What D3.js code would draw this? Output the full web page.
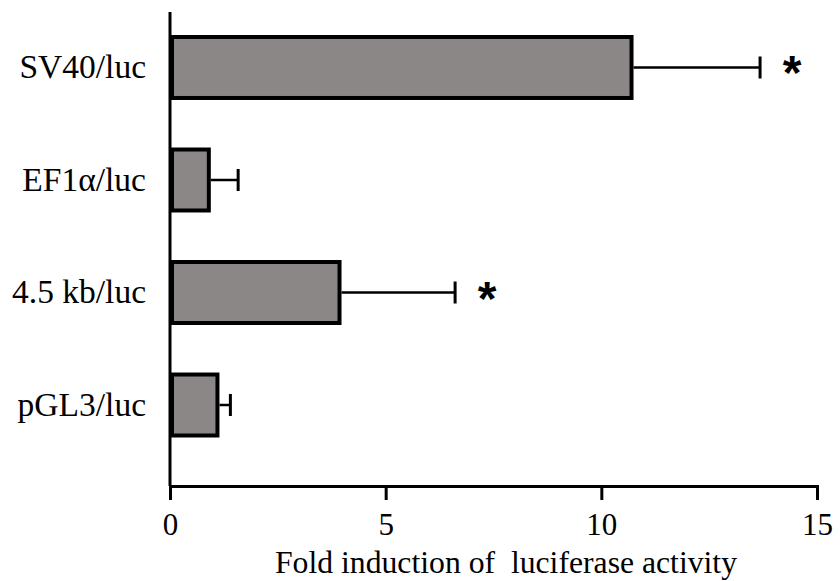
<!DOCTYPE html>
<meta charset="utf-8"/>
<html>
  <head>
    <script src="https://d3js.org/d3.v7.min.js"></script>
    <style>
      body { margin: 0; background: #fff; }
      text { font-family: 'Liberation Serif', 'Times New Roman', serif; fill: #000; }
    </style>
  </head>
  <body>
<script type="text/javascript">
// data
var constructs = ['SV40/luc', 'EF1\u03b1/luc', '4.5 kb/luc', 'pGL3/luc'];
var foldMeans = [10.7, 0.9, 3.93, 1.1];
var foldErrors = [2.98, 0.68, 2.68, 0.3];
var significant = [true, false, true, false];
var xTicks = [0, 5, 10, 15];

var width = 840;
var height = 581;
var svg = d3.select('body').append('svg')
    .attr('width', width)
    .attr('height', height);

var x = d3.scaleLinear()
    .domain([0, 15])
    .range([170, 817]);
var y = d3.scaleBand()
    .domain(constructs)
    .range([14.5, 458])
    .paddingInner(0.458)
    .paddingOuter(0.2);

var axisTop = 12;
var axisBottomY = 486;

// bars
svg.append('g')
    .selectAll('rect')
    .data(constructs)
    .enter()
    .append('rect')
    .attr('x', x(0) + 2)
    .attr('y', function(d) { return y(d); })
    .attr('width', function(d, i) { return x(foldMeans[i]) - x(0) - 2; })
    .attr('height', y.bandwidth())
    .attr('fill', '#8b8786')
    .attr('stroke', '#000')
    .attr('stroke-width', 4);

// error bars (one-sided)
var err = svg.append('g');
err.selectAll('line.whisker')
    .data(constructs)
    .enter()
    .append('line')
    .attr('class', 'whisker')
    .attr('x1', function(d, i) { return x(foldMeans[i]) + 2; })
    .attr('x2', function(d, i) { return x(foldMeans[i] + foldErrors[i]); })
    .attr('y1', function(d) { return y(d) + y.bandwidth() / 2; })
    .attr('y2', function(d) { return y(d) + y.bandwidth() / 2; })
    .attr('stroke', '#000')
    .attr('stroke-width', 2.5);
err.selectAll('line.cap')
    .data(constructs)
    .enter()
    .append('line')
    .attr('class', 'cap')
    .attr('x1', function(d, i) { return x(foldMeans[i] + foldErrors[i]); })
    .attr('x2', function(d, i) { return x(foldMeans[i] + foldErrors[i]); })
    .attr('y1', function(d) { return y(d) + y.bandwidth() / 2 - 11; })
    .attr('y2', function(d) { return y(d) + y.bandwidth() / 2 + 11; })
    .attr('stroke', '#000')
    .attr('stroke-width', 3);

// significance stars
svg.append('g')
    .selectAll('text')
    .data(constructs.filter(function(d, i) { return significant[i]; }))
    .enter()
    .append('text')
    .attr('x', function(d) { var i = constructs.indexOf(d); return x(foldMeans[i] + foldErrors[i]) + 32; })
    .attr('y', function(d) { return y(d) + y.bandwidth() / 2 + 22; })
    .attr('text-anchor', 'middle')
    .style('font-family', "'Liberation Sans', Arial, sans-serif")
    .style('font-weight', 'bold')
    .style('font-size', '48px')
    .text('*');

// y axis: labels only, line drawn by hand
var yAxis = svg.append('g')
    .attr('transform', 'translate(' + x(0) + ',0)')
    .call(d3.axisLeft(y).tickSize(0).tickPadding(24));
yAxis.select('.domain').remove();
yAxis.selectAll('text')
    .style('font-size', '33.5px')
    .style('font-family', "'Liberation Serif', 'Times New Roman', serif");
svg.append('line')
    .attr('x1', x(0)).attr('x2', x(0))
    .attr('y1', axisTop).attr('y2', axisBottomY)
    .attr('stroke', '#000')
    .attr('stroke-width', 3);

// x axis
var xAxis = svg.append('g')
    .attr('transform', 'translate(0,' + axisBottomY + ')')
    .call(d3.axisBottom(x).tickValues(xTicks).tickSizeOuter(0).tickSize(14).tickPadding(13));
xAxis.select('.domain').attr('stroke-width', 3);
xAxis.selectAll('.tick line').attr('stroke-width', 3);
xAxis.selectAll('text')
    .style('font-size', '31px')
    .style('font-family', "'Liberation Serif', 'Times New Roman', serif");

svg.append('text')
    .attr('x', 506)
    .attr('y', 573)
    .attr('text-anchor', 'middle')
    .style('font-size', '31.7px')
    .text('Fold induction of \u00a0luciferase activity');
</script>
  </body>
</html>
